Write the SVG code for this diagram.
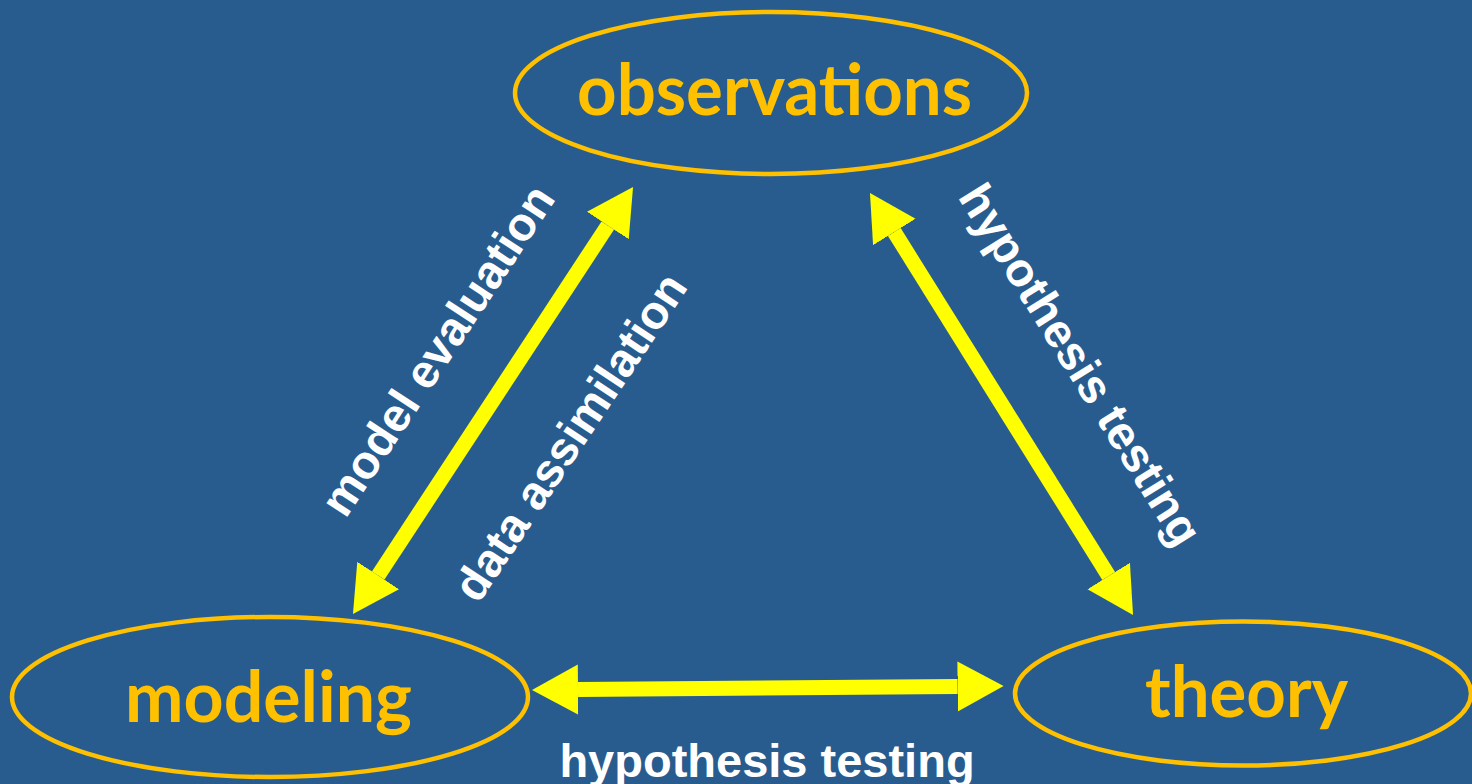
<svg xmlns="http://www.w3.org/2000/svg" width="1472" height="784" viewBox="0 0 1472 784">
  <style>
    .node { fill: none; stroke: #FFC000; stroke-width: 4.5; }
    .nlabel { fill: #FFC000; font-family: Lato, "Open Sans", "Liberation Sans", sans-serif; font-weight: bold; font-size: 70px; text-anchor: middle; }
    .conn { stroke: #FFFF00; stroke-width: 15; fill: none; marker-start: url(#head); marker-end: url(#head); }
    .elabel { fill: #FFFFFF; font-family: "Liberation Sans", Arial, sans-serif; font-weight: bold; font-size: 47px; text-anchor: middle; }
  </style>
  <defs>
    <marker id="head" markerUnits="userSpaceOnUse" markerWidth="48" markerHeight="52" refX="0" refY="25" orient="auto-start-reverse" viewBox="0 0 48 52">
      <path d="M0,0 L46,25 L0,50 Z" fill="#FFFF00"/>
    </marker>
  </defs>
  <rect x="0" y="0" width="1472" height="784" fill="#285C8E"/>

  <g id="connectors">
    <line class="conn" x1="378.2" y1="575.5" x2="607.8" y2="225.5"/>
    <line class="conn" x1="894.3" y1="232.0" x2="1108.7" y2="576.0"/>
    <line class="conn" x1="578" y1="689.6" x2="957.6" y2="686.4"/>
    <text class="elabel" transform="translate(451,359) rotate(-56.7)">model evaluation</text>
    <text class="elabel" transform="translate(583.6,445.8) rotate(-56.5)">data assimilation</text>
    <text class="elabel" transform="translate(1067,373) rotate(58.1)">hypothesis testing</text>
    <text class="elabel" x="767" y="777">hypothesis testing</text>
  </g>

  <g id="observations">
    <ellipse class="node" cx="771" cy="93" rx="256" ry="81"/>
    <text class="nlabel" x="774.5" y="115" textLength="395" lengthAdjust="spacingAndGlyphs">observations</text>
  </g>
  <g id="modeling">
    <ellipse class="node" cx="270" cy="697" rx="258" ry="80"/>
    <text class="nlabel" x="268.5" y="722" textLength="287" lengthAdjust="spacingAndGlyphs">modeling</text>
  </g>
  <g id="theory">
    <ellipse class="node" cx="1243" cy="693.5" rx="228" ry="72"/>
    <text class="nlabel" x="1246.5" y="717" textLength="203" lengthAdjust="spacingAndGlyphs">theory</text>
  </g>
</svg>
